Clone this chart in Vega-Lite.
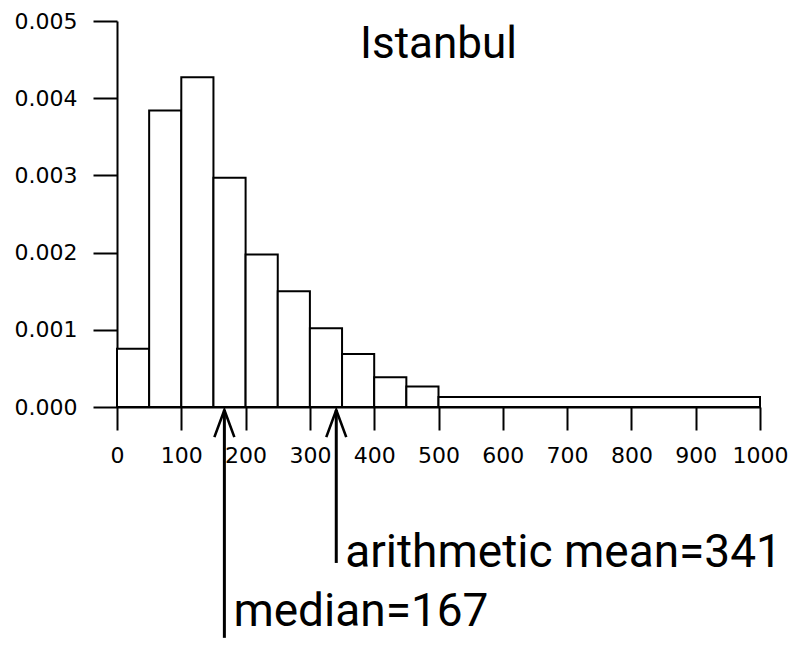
{
  "$schema": "https://vega.github.io/schema/vega-lite/v6.json",
  "width": 643,
  "height": 386,
  "autosize": {"type": "none"},
  "padding": {"left": 117, "top": 21, "right": 36, "bottom": 239},
  "background": "white",
  "config": {
    "view": {"stroke": null},
    "axis": {
      "domainColor": "black",
      "domainWidth": 2,
      "tickColor": "black",
      "tickWidth": 2,
      "labelColor": "black",
      "labelFont": "DejaVu Sans",
      "labelFontSize": 22,
      "labelOverlap": false,
      "labelFlush": false,
      "grid": false
    }
  },
  "datasets": {
    "bins": [
      {"start": 0, "end": 50, "density": 0.000755},
      {"start": 50, "end": 100, "density": 0.00384},
      {"start": 100, "end": 150, "density": 0.00427},
      {"start": 150, "end": 200, "density": 0.00297},
      {"start": 200, "end": 250, "density": 0.001975},
      {"start": 250, "end": 300, "density": 0.0015},
      {"start": 300, "end": 350, "density": 0.00102},
      {"start": 350, "end": 400, "density": 0.000686},
      {"start": 400, "end": 450, "density": 0.000384},
      {"start": 450, "end": 500, "density": 0.000264},
      {"start": 500, "end": 1000, "density": 0.000129}
    ],
    "stats": [
      {"stat": "median", "value": 167, "label": "median=167", "shaftEnd": -0.00299, "labelY": -0.00284},
      {"stat": "mean", "value": 341, "label": "arithmetic mean=341", "shaftEnd": -0.00202, "labelY": -0.00207}
    ],
    "heading": [
      {"city": "Istanbul"}
    ]
  },
  "layer": [
    {
      "data": {"name": "bins"},
      "mark": {"type": "rect", "fill": "white", "stroke": "black", "strokeWidth": 2, "opacity": 1},
      "encoding": {
        "x": {
          "field": "start", "type": "quantitative",
          "scale": {"domain": [0, 1000], "nice": false, "zero": false, "padding": 0},
          "axis": {"values": [0, 100, 200, 300, 400, 500, 600, 700, 800, 900, 1000], "format": "d", "tickSize": 23, "labelPadding": 15, "title": null}
        },
        "x2": {"field": "end"},
        "y": {
          "field": "density", "type": "quantitative",
          "scale": {"domain": [0, 0.005], "nice": false, "padding": 0},
          "axis": {"values": [0, 0.001, 0.002, 0.003, 0.004, 0.005], "format": ".3f", "tickSize": 24, "labelPadding": 16, "title": null}
        },
        "y2": {"datum": 0}
      }
    },
    {
      "data": {"name": "stats"},
      "mark": {"type": "rule", "stroke": "black", "strokeWidth": 3},
      "encoding": {
        "x": {"field": "value", "type": "quantitative", "title": null},
        "y": {"field": "shaftEnd", "type": "quantitative", "title": null},
        "y2": {"datum": -0.00004}
      }
    },
    {
      "data": {"name": "stats"},
      "mark": {"type": "point", "shape": "M -0.37 1 L 0 0 L 0.37 1", "size": 2916, "filled": false, "stroke": "black", "strokeWidth": 2.6, "opacity": 1},
      "encoding": {
        "x": {"field": "value", "type": "quantitative", "title": null},
        "y": {"datum": -0.00004, "type": "quantitative"}
      }
    },
    {
      "data": {"name": "stats"},
      "mark": {"type": "text", "align": "left", "baseline": "alphabetic", "dx": 9, "font": "Roboto", "fontSize": 46, "color": "black"},
      "encoding": {
        "x": {"field": "value", "type": "quantitative", "title": null},
        "y": {"field": "labelY", "type": "quantitative", "title": null},
        "text": {"field": "label"}
      }
    },
    {
      "data": {"name": "heading"},
      "mark": {"type": "text", "align": "center", "baseline": "alphabetic", "font": "Roboto", "fontSize": 44, "color": "black"},
      "encoding": {
        "x": {"datum": 500, "type": "quantitative"},
        "y": {"datum": 0.004524, "type": "quantitative"},
        "text": {"field": "city"}
      }
    }
  ]
}
